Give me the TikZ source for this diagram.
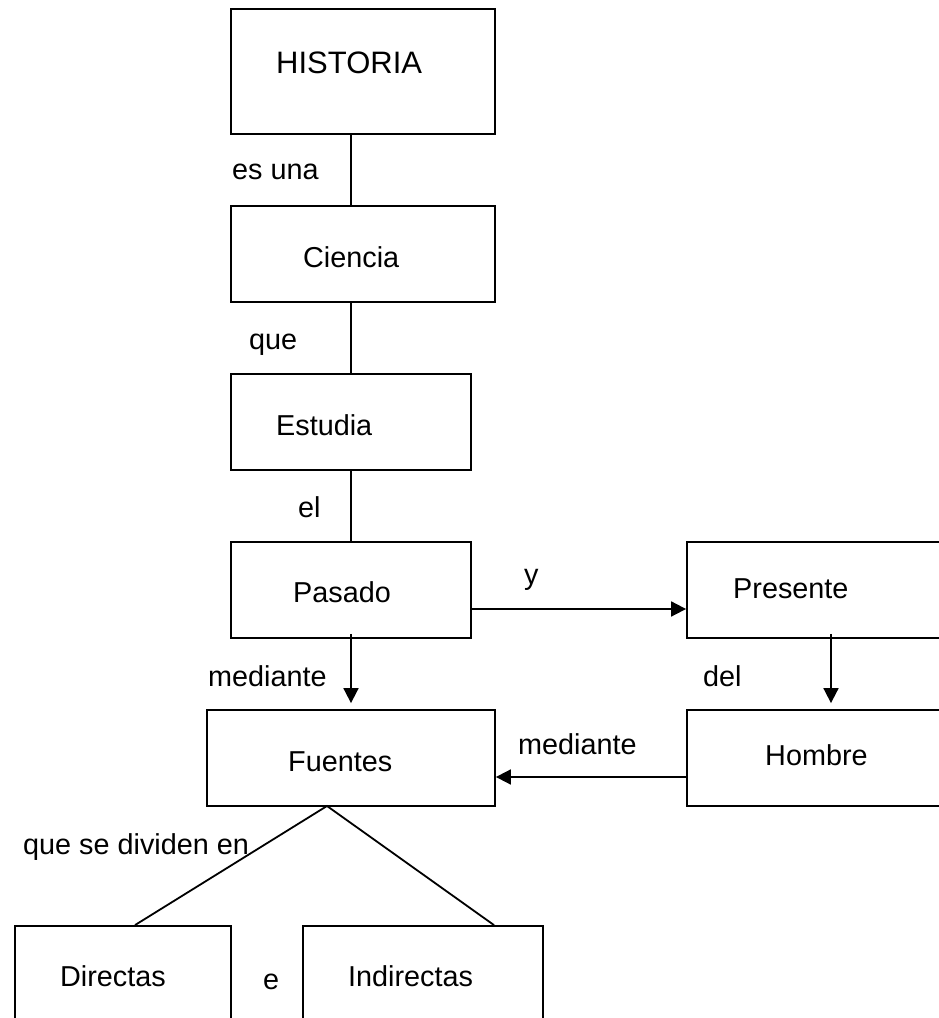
\documentclass[tikz,border=0pt]{standalone}
\usepackage{fontspec}
\setmainfont{Liberation Sans}
\usetikzlibrary{arrows.meta,calc}

\tikzset{
  box/.style={draw, line width=1.8pt, rectangle, inner sep=0pt},
  txt/.style={anchor=base west, inner sep=0pt, font=\fontsize{28.8}{30}\selectfont},
  bigtxt/.style={anchor=base west, inner sep=0pt, font=\fontsize{31}{33}\selectfont},
  link/.style={line width=1.8pt},
  arrow/.style={line width=1.8pt, -{Triangle[length=15pt,width=15pt]}}
}

\begin{document}
\begin{tikzpicture}[x=1pt,y=1pt]
\useasboundingbox (0,0) rectangle (939,1018);
\clip (0,0) rectangle (939,1018);

% boxes
\node[box, minimum width=264pt, minimum height=125pt] (historia) at (363,946.5) {};
\node[box, minimum width=264pt, minimum height=96pt] (ciencia) at (363,764) {};
\node[box, minimum width=240pt, minimum height=96pt] (estudia) at (351,596) {};
\node[box, minimum width=240pt, minimum height=96pt] (pasado) at (351,428) {};
\node[box, minimum width=280pt, minimum height=96pt] (presente) at (827,428) {};
\node[box, minimum width=288pt, minimum height=96pt] (fuentes) at (351,260) {};
\node[box, minimum width=280pt, minimum height=96pt] (hombre) at (827,260) {};
\node[box, minimum width=216pt, minimum height=120pt] (directas) at (123,32) {};
\node[box, minimum width=240pt, minimum height=120pt] (indirectas) at (423,32) {};

% box texts
\node[bigtxt] (t-historia) at (276,944) {HISTORIA};
\node[txt] (t-ciencia) at (303,750) {Ciencia};
\node[txt] (t-estudia) at (276,582) {Estudia};
\node[txt] (t-pasado) at (293,415) {Pasado};
\node[txt] (t-presente) at (733,419) {Presente};
\node[txt] (t-fuentes) at (288,246) {Fuentes};
\node[txt] (t-hombre) at (765,252) {Hombre};
\node[txt] (t-directas) at (60,31) {Directas};
\node[txt] (t-indirectas) at (348,31) {Indirectas};

% linking words
\node[txt] (l-esuna) at (232,838) {es una};
\node[txt] (l-que) at (249,668) {que};
\node[txt] (l-el) at (298,500) {el};
\node[txt] (l-y) at (524,433) {y};
\node[txt] (l-mediante1) at (208,331) {mediante};
\node[txt] (l-del) at (703,331) {del};
\node[txt] (l-mediante2) at (518,263) {mediante};
\node[txt] (l-dividen) at (23,163) {que se dividen en};
\node[txt] (l-e) at (263,28) {e};

% guide coordinates for the connectors
\coordinate (spine) at (351,0);
\coordinate (rcol) at (831,0);
\coordinate (row1) at (0,409);
\coordinate (row2) at (0,241);
\coordinate (apex) at (327,212);
\coordinate (dtop) at (135,0);
\coordinate (itop) at (494,0);

% connectors
\draw[link] (historia.south -| spine) -- (ciencia.north -| spine);
\draw[link] (ciencia.south -| spine) -- (estudia.north -| spine);
\draw[link] (estudia.south) -- (pasado.north);
\draw[arrow] ($(pasado.south)+(0,5)$) -- ($(fuentes.north)+(0,6)$);
\draw[arrow] (pasado.east |- row1) -- (presente.west |- row1);
\draw[arrow] ($(presente.south -| rcol)+(0,5)$) -- ($(hombre.north -| rcol)+(0,6)$);
\draw[arrow] (hombre.west |- row2) -- (fuentes.east |- row2);
\draw[link] (directas.north -| dtop) -- (apex) -- (indirectas.north -| itop);
\end{tikzpicture}
\end{document}
